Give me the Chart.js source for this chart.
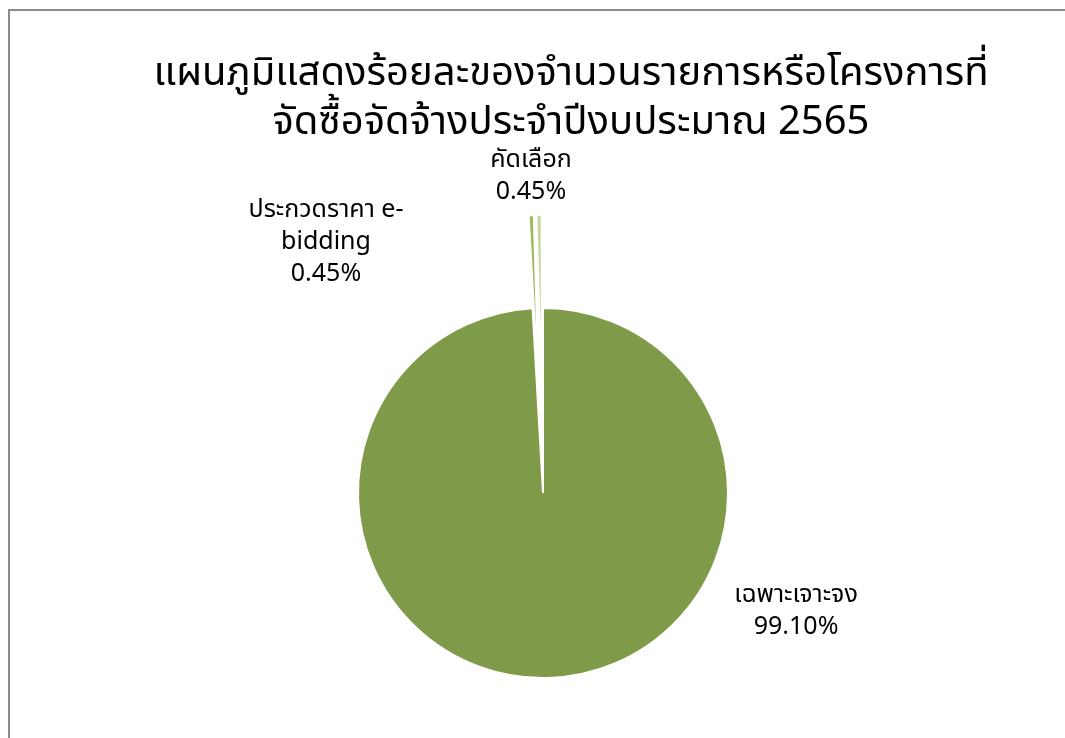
<!DOCTYPE html>
<html>
<head>
<meta charset="utf-8">
<script src="https://cdn.jsdelivr.net/npm/chart.js@4"></script>
<style>
  html, body { margin:0; padding:0; background:#fff; overflow:hidden; }
  #frame { position:absolute; left:8px; top:9px; width:1080px; height:760px;
           border:2px solid #8c8c8c; box-sizing:border-box; }
  #wrap { position:absolute; left:0; top:0; width:1065px; height:738px; }
</style>
</head>
<body>
<div id="frame"></div>
<div id="wrap"><canvas id="pie"></canvas></div>
<script>
// ข้อมูล
const titleLines = ['แผนภูมิแสดงร้อยละของจำนวนรายการหรือโครงการที่', 'จัดซื้อจัดจ้างประจำปีงบประมาณ 2565'];
const categories = ['เฉพาะเจาะจง', 'ประกวดราคา e-bidding', 'คัดเลือก'];
const labelLines = [['เฉพาะเจาะจง'], ['ประกวดราคา e-', 'bidding'], ['คัดเลือก']];
const percents   = [99.10, 0.45, 0.45];
const colors     = ['#7f9b4a', '#9bbb59', '#c3d69b'];
const explode    = [0, 93, 93];

const FONT = '"Noto Sans Thai", "Noto Sans", "DejaVu Sans", sans-serif';

// ตำแหน่งป้าย (เทียบกับรัศมี)
const labelPos = [[1.368, 0.649], [-1.173, -1.346], [-0.065, -1.705]];

const titlePlugin = {
  id:'titleText',
  afterDraw(chart){
    const c= chart.ctx;
    c.save();
    c.fillStyle='#000';
    c.font=`40px ${FONT}`;
    c.textAlign='center';
    c.textBaseline='alphabetic';
    c.fillText(titleLines[0], 571, 85);
    c.fillText(titleLines[1], 571, 134);
    c.restore();
  }
};

// ชิ้นที่แยกออก (offset ของ Chart.js ทำให้ชิ้นบางหายไป)
const explodePlugin = {
  id:'explode',
  beforeDatasetDraw(chart, args){
    const c= chart.ctx;
    args.meta.data.forEach((arc,i)=>{
      const d= explode[i]||0;
      const mid= (arc.startAngle+arc.endAngle)/2;
      c.save();
      c.translate(Math.cos(mid)*d, Math.sin(mid)*d);
      arc.draw(c, chart.chartArea);
      c.restore();
    });
    return false;
  }
};

const labelPlugin = {
  id:'sliceLabels',
  afterDatasetsDraw(chart){
    const c= chart.ctx;
    const arcs= chart.getDatasetMeta(0).data;
    c.save();
    c.fillStyle='#000';
    c.font=`25px ${FONT}`;
    c.textAlign='center';
    c.textBaseline='middle';
    arcs.forEach((a,i)=>{
      const r= a.outerRadius;
      const cx= a.x + labelPos[i][0]*r;
      const cy= a.y + labelPos[i][1]*r;
      const lines= labelLines[i].concat([percents[i].toFixed(2)+'%']);
      const lh= 32;
      const y0= cy - (lines.length-1)*lh/2;
      lines.forEach((t,k)=> c.fillText(t, cx, y0+k*lh));
    });
    c.restore();
  }
};

new Chart(document.getElementById('pie'), {
  type:'pie',
  data:{
    labels: categories,
    datasets:[{
      data: percents,
      backgroundColor: colors,
      borderColor:'#ffffff',
      borderWidth:2
    }]
  },
  options:{
    responsive:true,
    maintainAspectRatio:false,
    animation:false,
    layout:{ padding:{ top:307, bottom:59, left:21, right:0 } },
    plugins:{
      legend:{ display:false },
      title:{ display:false },
      tooltip:{ enabled:false }
    }
  },
  plugins:[explodePlugin, titlePlugin, labelPlugin]
});
</script>
</body>
</html>
